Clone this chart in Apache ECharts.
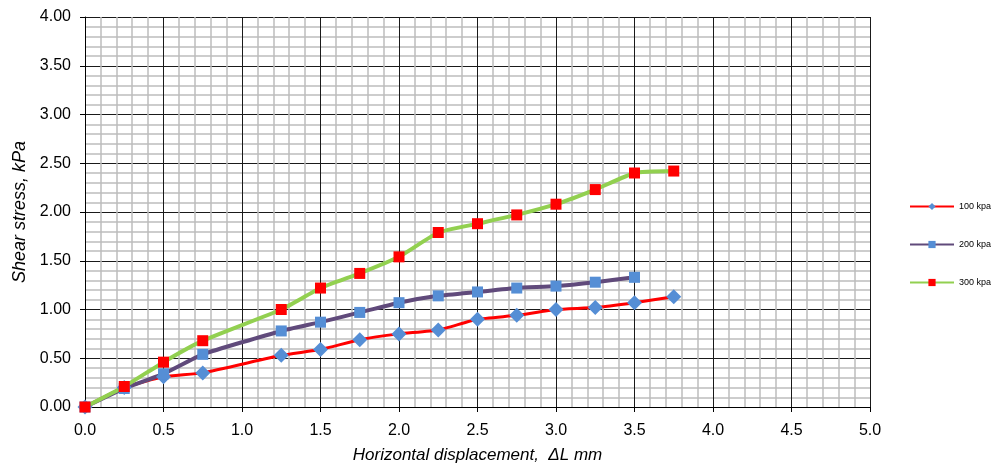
<!DOCTYPE html>
<html><head><meta charset="utf-8">
<script src="https://cdn.jsdelivr.net/npm/echarts@6/dist/echarts.min.js"></script>
<style>html,body{margin:0;padding:0;background:#fff}#c{width:999px;height:468px}</style>
</head><body><div id="c"></div>
<script>
const seriesNames = ['100 kpa', '200 kpa', '300 kpa'];
const x100 = [0, 0.25, 0.5, 0.75, 1.25, 1.5, 1.75, 2.0, 2.25, 2.5, 2.75, 3.0, 3.25, 3.5, 3.75];
const y100 = [0, 0.20, 0.31, 0.35, 0.53, 0.59, 0.69, 0.75, 0.79, 0.90, 0.94, 1.00, 1.02, 1.07, 1.13];
const x200 = [0, 0.25, 0.5, 0.75, 1.25, 1.5, 1.75, 2.0, 2.25, 2.5, 2.75, 3.0, 3.25, 3.5];
const y200 = [0, 0.19, 0.34, 0.54, 0.78, 0.87, 0.97, 1.07, 1.14, 1.18, 1.22, 1.24, 1.28, 1.33];
const x300 = [0, 0.25, 0.5, 0.75, 1.25, 1.5, 1.75, 2.0, 2.25, 2.5, 2.75, 3.0, 3.25, 3.5, 3.75];
const y300 = [0, 0.21, 0.46, 0.68, 1.00, 1.22, 1.37, 1.54, 1.79, 1.88, 1.97, 2.08, 2.23, 2.40, 2.42];

const pair = (xs, ys) => xs.map((x, i) => [x, ys[i]]);
const font = 'Liberation Sans, Arial, sans-serif';
const chart = echarts.init(document.getElementById('c'));
const mk = (name, data, lineColor, lw, symbol, symSize, symColor) => ({
  name, type: 'line', data: pair(...data), smooth: 0.15,
  lineStyle: {color: lineColor, width: lw},
  itemStyle: {color: symColor, borderWidth: 0},
  symbol, symbolSize: symSize, showSymbol: true, z: 3
});
chart.setOption({
  animation: false,
  textStyle: {fontFamily: font},
  grid: {left: 85, top: 17, width: 785, height: 390, containLabel: false, outerBoundsMode: 'none'},
  legend: {
    orient: 'vertical', left: 904, top: 197, itemGap: 29,
    itemWidth: 44, itemHeight: 9,
    textStyle: {fontSize: 9, color: '#000', fontFamily: font},
    data: [
      {name: seriesNames[0], itemStyle: {color: '#558ED5'}},
      {name: seriesNames[1], itemStyle: {color: '#558ED5'}},
      {name: seriesNames[2], itemStyle: {color: '#FF0000'}}
    ]
  },
  xAxis: {
    type: 'value', min: 0, max: 5, interval: 0.5,
    name: 'Horizontal displacement,  ΔL mm', nameLocation: 'middle', nameGap: 40,
    nameTextStyle: {fontSize: 17, fontStyle: 'italic', color: '#000', fontFamily: font},
    axisLine: {lineStyle: {color: '#000', width: 1}},
    axisTick: {show: true, length: 5, lineStyle: {color: '#000'}},
    axisLabel: {fontSize: 16, color: '#000', margin: 16, formatter: v => v.toFixed(1)},
    splitLine: {show: true, lineStyle: {color: '#1a1a1a', width: 1}},
    minorTick: {show: false, splitNumber: 5},
    minorSplitLine: {show: true, lineStyle: {color: '#bdbdbd', width: 1.5}}
  },
  yAxis: {
    type: 'value', min: 0, max: 4, interval: 0.5,
    name: 'Shear stress, kPa', nameLocation: 'middle', nameGap: 54,
    nameTextStyle: {fontSize: 18, fontStyle: 'italic', color: '#000', fontFamily: font},
    axisLine: {show: true, lineStyle: {color: '#000', width: 1}},
    axisTick: {show: true, length: 5, lineStyle: {color: '#000'}},
    axisLabel: {fontSize: 16, color: '#000', margin: 14, formatter: v => v.toFixed(2)},
    splitLine: {show: true, lineStyle: {color: '#1a1a1a', width: 1}},
    minorTick: {show: false, splitNumber: 5},
    minorSplitLine: {show: true, lineStyle: {color: '#bdbdbd', width: 1.5}}
  },
  series: [
    mk(seriesNames[0], [x100, y100], '#FF0000', 3, 'diamond', 15, '#558ED5'),
    mk(seriesNames[1], [x200, y200], '#604A7B', 4, 'rect', 11, '#558ED5'),
    mk(seriesNames[2], [x300, y300], '#92D050', 4, 'rect', 11, '#FF0000')
  ]
});
</script></body></html>
